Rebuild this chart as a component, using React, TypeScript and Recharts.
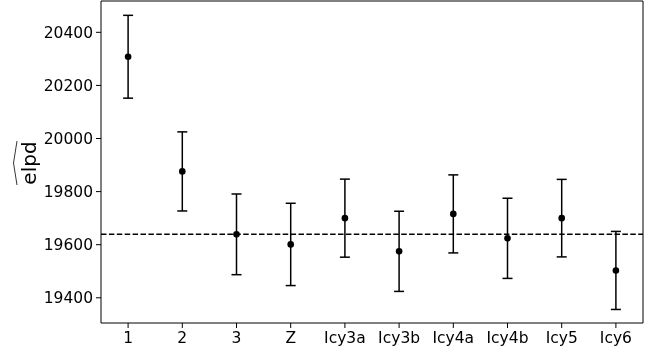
import {
  CartesianGrid,
  ComposedChart,
  ErrorBar,
  ReferenceLine,
  Scatter,
  XAxis,
  YAxis,
} from 'recharts'

const models = ['1', '2', '3', 'Z', 'Icy3a', 'Icy3b', 'Icy4a', 'Icy4b', 'Icy5', 'Icy6']
const elpd = [20308, 19876, 19639, 19601, 19700, 19575, 19716, 19624, 19700, 19503]
const elpdSe = [156, 149, 152, 155, 147, 151, 147, 151, 146, 147]
const baseline = 19639
const yTicks = [19400, 19600, 19800, 20000, 20200, 20400]

const data = models.map((name, i) => ({ name, elpd: elpd[i], err: elpdSe[i] }))

const font = 'DejaVu Sans, sans-serif'

function Dot(props: any) {
  return <circle cx={props.cx} cy={props.cy} r={3.3} fill='#000' />
}

function ElpdLabel() {
  // rotated label with a wide hat over it
  return (
    <g transform='translate(36,163) rotate(-90)'>
      <text
        x={0}
        y={0}
        textAnchor='middle'
        fontFamily={font}
        fontSize={20}
        fill='#000'
      >
        elpd
      </text>
      <path
        d='M -22 -19 L 0 -22.5 L 22 -19'
        fill='none'
        stroke='#000'
        strokeWidth={0.8}
      />
    </g>
  )
}

export default function App() {
  return (
    <div style={{ position: 'fixed', left: 0, top: 0 }}>
      <ComposedChart
        width={662}
        height={356}
        data={data}
        margin={{ top: 1, right: 19, left: 0, bottom: 0 }}
      >
        {/* top and right frame edges */}
        <CartesianGrid
          stroke='#000'
          strokeWidth={1}
          horizontalCoordinatesGenerator={({ offset }: any) => [offset.top]}
          verticalCoordinatesGenerator={({ offset }: any) => [
            offset.left + offset.width,
          ]}
        />
        <XAxis
          dataKey='name'
          type='category'
          height={33}
          padding={{ left: 27.1, right: 27.1 }}
          tickSize={5}
          tickMargin={4}
          stroke='#000'
          tick={{ fill: '#000', fontSize: 15.5, fontFamily: font }}
          interval={0}
        />
        <YAxis
          type='number'
          domain={[19305, 20518]}
          ticks={yTicks}
          width={101}
          tickSize={5}
          tickMargin={3}
          stroke='#000'
          tick={{ fill: '#000', fontSize: 15.5, fontFamily: font }}
          label={{ content: <ElpdLabel /> }}
        />
        <ReferenceLine
          y={baseline}
          stroke='#000'
          strokeWidth={1.5}
          strokeDasharray='5.5 2.4'
        />
        <Scatter dataKey='elpd' shape={<Dot />} isAnimationActive={false}>
          <ErrorBar
            dataKey='err'
            direction='y'
            width={5}
            stroke='#000'
            strokeWidth={1.5}
            isAnimationActive={false}
          />
        </Scatter>
      </ComposedChart>
    </div>
  )
}
